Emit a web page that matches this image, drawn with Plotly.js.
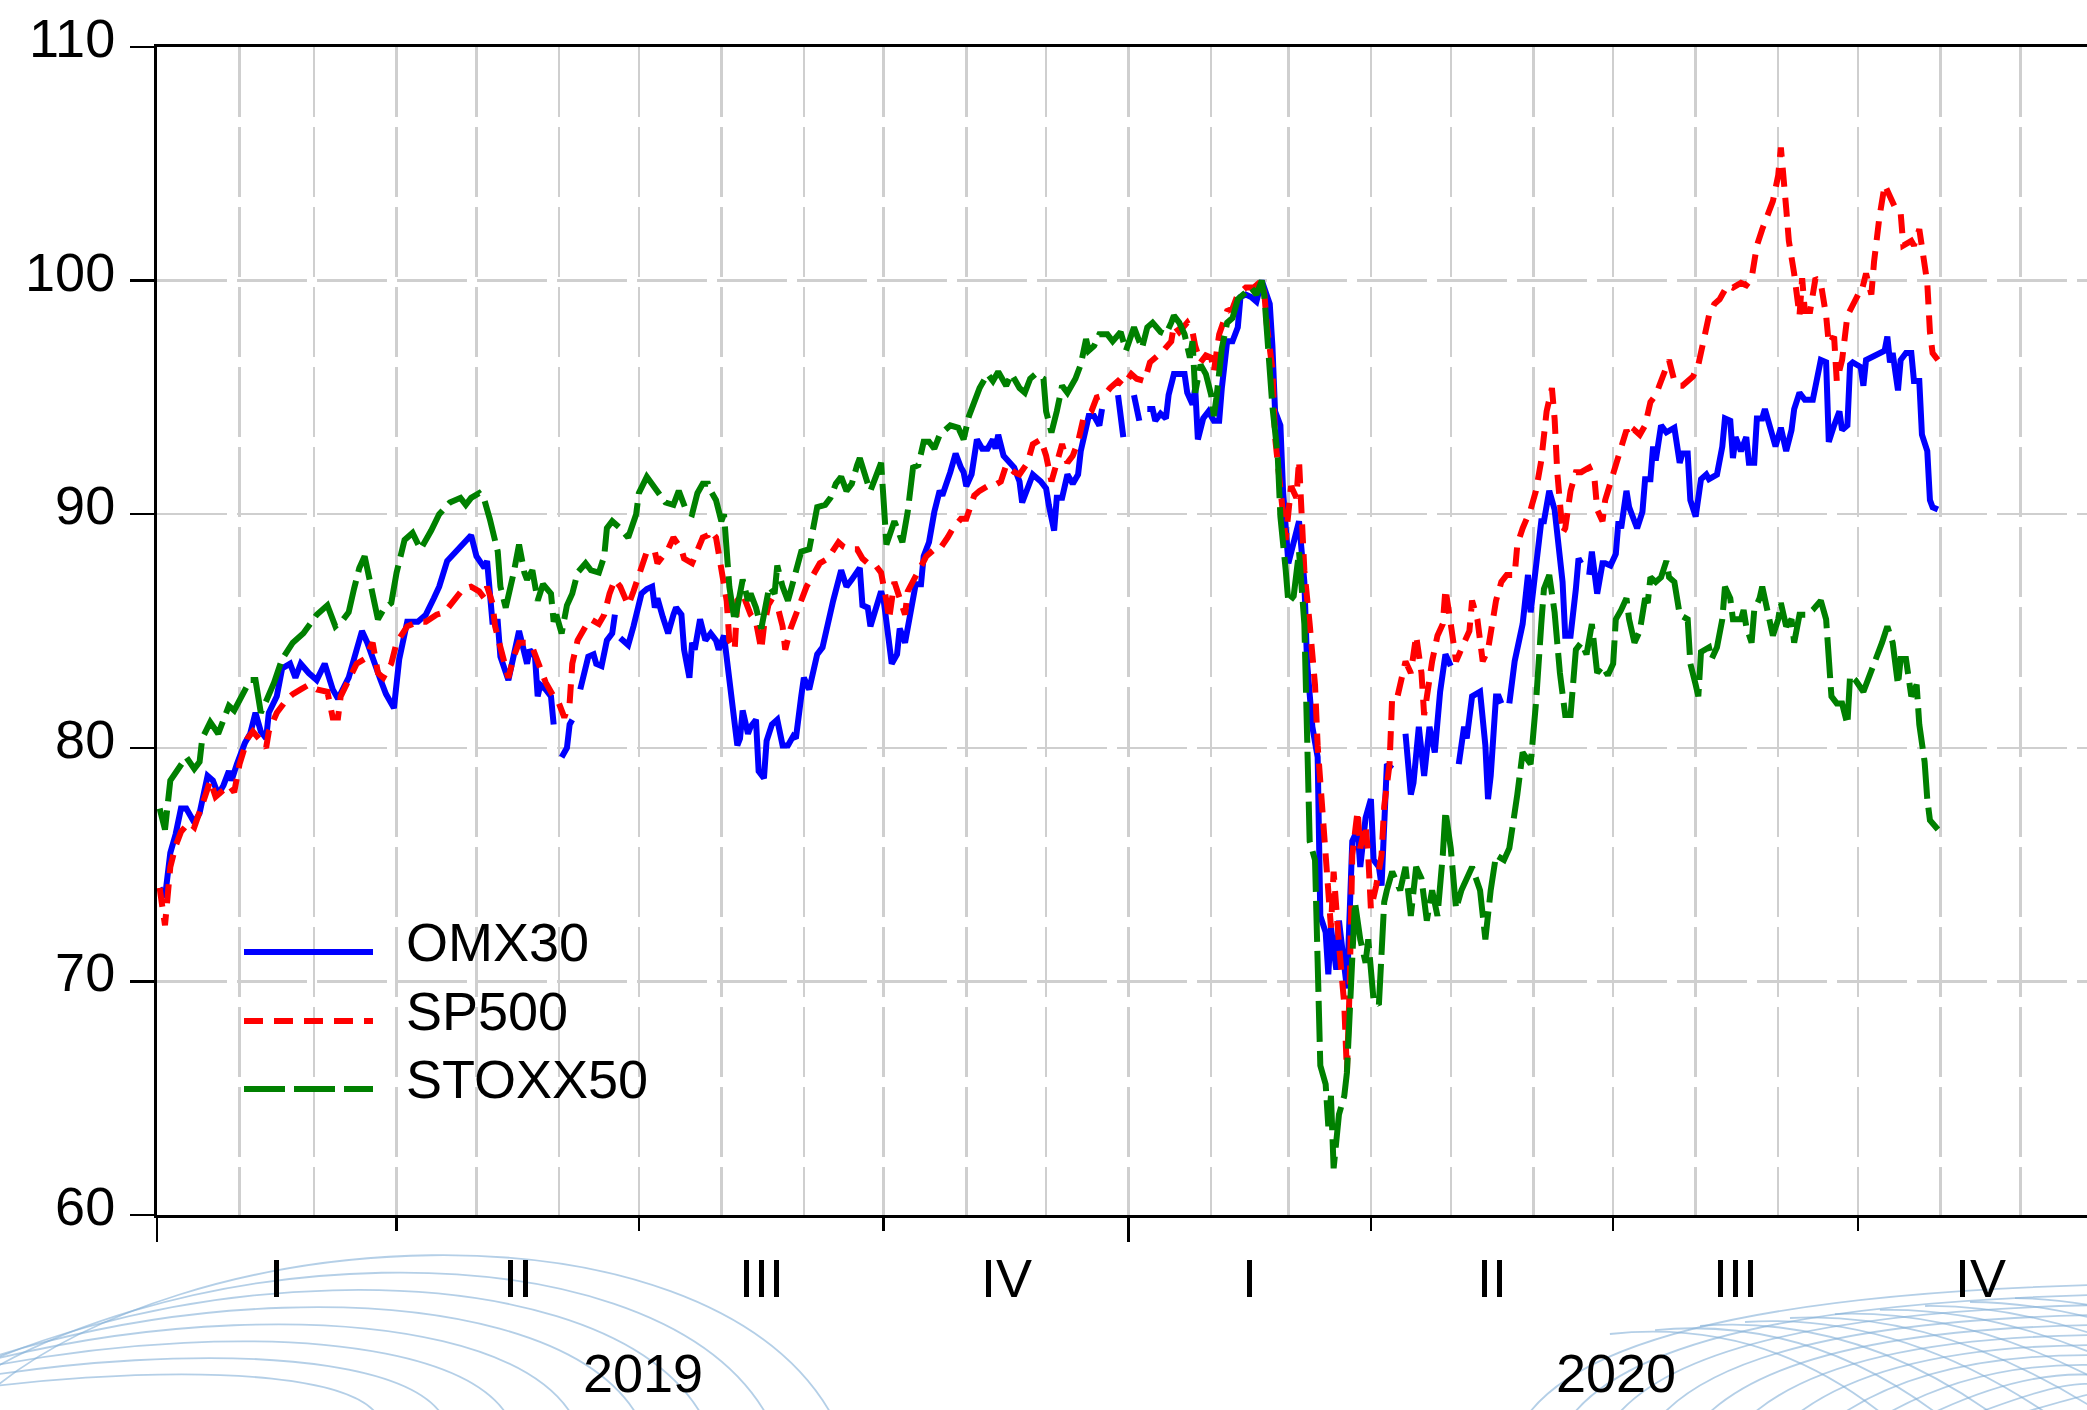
<!DOCTYPE html>
<html><head><meta charset="utf-8">
<script src="https://cdn.plot.ly/plotly-3.0.1.min.js"></script>
<style>html,body{margin:0;padding:0;background:#fff;overflow:hidden}#chart{width:2087px;height:1410px}</style>
</head><body><div id="chart"></div>
<script>
// ---------------- DATA ----------------
const SERIES_NAMES = ['OMX30', 'SP500', 'STOXX50'];
const QUARTER_LABELS = ['I', 'II', 'III', 'IV'];
const YEARS = [2019, 2020];
const Y_TICKS = [60, 70, 80, 90, 100, 110];
const BASE_DATE = '2019-01-01';
// observations: [calendar days since 2019-01-01, index level]; null = no observation (gap)
const OMX30 = [[1,74.0],[3,73.6],[5,75.5],[7,76.3],[9,77.4],[11,77.4],[14,76.8],[16,77.2],[19,78.8],[21,78.6],[23,78.0],[25,78.4],[27,79.0],[28,78.6],[30,79.3],[33,80.2],[35,80.6],[37,81.5],[39,80.7],[41,80.4],[42,81.5],[45,82.2],[47,83.4],[50,83.6],[52,83.0],[54,83.6],[57,83.2],[60,82.9],[63,83.6],[66,82.5],[68,82.1],[70,82.5],[72,83.0],[74,83.8],[77,85.0],[79,84.5],[81,83.8],[84,82.9],[86,82.3],[89,81.7],[91,83.8],[94,85.4],[98,85.4],[101,85.7],[104,86.4],[106,86.9],[109,88.0],[113,88.5],[116,88.9],[118,89.1],[120,88.2],[123,87.7],[124,88.0],[126,85.4],[128,85.4],[129,83.9],[132,82.9],[134,83.9],[136,85.0],[139,83.6],[140,84.2],[142,83.9],[143,82.2],[144,82.7],[146,82.5],[148,82.2],[149,81.0],[150,null],[152,79.6],[154,80.0],[155,81.0],[156,81.2],[157,null],[159,82.5],[160,82.9],[162,83.9],[164,84.0],[165,83.6],[167,83.5],[169,84.6],[171,84.9],[172,85.7],[173,null],[174,84.7],[177,84.4],[179,85.2],[180,85.7],[182,86.6],[184,86.8],[186,86.9],[187,86.0],[188,86.4],[190,85.6],[192,84.9],[194,85.7],[195,86.0],[197,85.7],[198,84.2],[200,83.0],[201,84.5],[202,84.2],[204,85.5],[206,84.6],[208,84.9],[210,84.6],[211,84.2],[213,84.8],[215,82.7],[217,80.7],[218,80.1],[219,80.4],[220,81.6],[222,80.6],[223,80.9],[225,81.2],[226,79.0],[228,78.7],[229,80.3],[231,81.0],[233,81.2],[235,80.1],[237,80.1],[239,80.5],[240,80.4],[242,82.2],[243,83.0],[245,82.5],[248,84.0],[250,84.3],[252,85.4],[254,86.3],[257,87.6],[259,86.9],[261,87.2],[264,87.7],[265,86.1],[267,86.0],[268,85.2],[270,85.9],[272,86.7],[273,86.3],[275,84.2],[276,83.6],[278,84.0],[279,85.1],[281,84.5],[283,85.7],[285,87.0],[287,87.0],[288,88.2],[290,88.8],[292,90.1],[294,91.0],[295,90.8],[298,91.8],[300,92.6],[302,92.0],[303,91.8],[304,91.2],[306,91.7],[308,93.2],[310,92.8],[312,92.8],[314,93.2],[315,92.8],[316,93.4],[318,92.5],[320,92.2],[322,92.0],[324,91.4],[325,90.5],[327,91.1],[329,91.7],[332,91.4],[334,91.1],[335,90.4],[337,89.3],[338,90.7],[340,90.7],[342,91.7],[344,91.3],[346,91.7],[347,92.7],[349,93.7],[350,94.2],[352,94.2],[354,93.8],[355,94.5],[357,null],[361,95.1],[363,93.3],[365,null],[367,95.1],[369,94.0],[370,null],[372,94.5],[374,94.5],[375,94.0],[377,94.3],[379,94.1],[380,95.1],[382,96.0],[384,96.0],[386,96.0],[387,95.2],[389,94.7],[390,95.4],[391,93.2],[393,94.1],[395,94.4],[397,94.0],[399,94.0],[400,95.4],[402,97.4],[404,97.4],[406,98.0],[407,99.3],[409,99.4],[411,99.3],[413,99.1],[415,100.0],[416,99.6],[418,99.0],[419,97.2],[420,94.4],[422,93.8],[423,91.0],[425,87.9],[427,88.7],[429,89.7],[431,87.1],[432,83.7],[434,80.9],[436,79.6],[437,72.8],[439,72.1],[440,70.3],[441,72.3],[443,70.5],[444,72.6],[447,69.7],[449,76.0],[451,76.5],[452,74.9],[454,77.0],[456,77.8],[457,75.2],[459,74.9],[460,74.1],[462,79.3],[464,79.1],[466,null],[469,80.6],[471,78.0],[472,78.5],[474,80.9],[476,78.8],[478,80.9],[480,79.8],[482,82.4],[484,84.0],[486,83.5],[487,null],[489,79.3],[491,80.9],[492,80.4],[494,82.2],[497,82.4],[499,80.1],[500,77.8],[501,78.8],[503,82.2],[504,82.2],[505,81.9],[506,null],[508,81.9],[510,83.7],[513,85.3],[515,87.4],[516,85.8],[518,87.9],[520,89.7],[521,89.7],[523,91.0],[525,90.2],[526,89.2],[528,87.1],[529,84.8],[531,84.8],[533,86.8],[534,88.1],[535,87.9],[536,null],[538,87.4],[539,88.4],[541,86.6],[543,87.9],[544,87.9],[546,87.8],[548,88.3],[549,89.7],[550,89.4],[552,91.0],[553,90.3],[556,89.4],[558,90.1],[559,91.5],[561,91.5],[562,92.9],[563,92.3],[565,93.8],[567,93.5],[570,93.7],[572,92.2],[573,92.6],[575,92.6],[576,90.6],[578,89.9],[580,91.5],[582,91.7],[583,91.5],[586,91.7],[588,92.9],[589,94.1],[591,94.0],[592,92.4],[593,93.3],[595,92.7],[597,93.3],[598,92.2],[600,92.2],[601,94.1],[603,94.1],[604,94.5],[606,93.6],[608,92.9],[610,93.7],[612,92.7],[614,93.6],[615,94.5],[617,95.2],[619,94.9],[622,94.9],[624,96.2],[625,96.6],[627,96.5],[628,93.1],[630,93.8],[632,94.4],[633,93.6],[635,93.8],[636,96.4],[637,96.5],[640,96.3],[641,95.5],[642,96.6],[644,96.7],[647,96.9],[649,97.0],[650,97.6],[651,96.5],[652,96.9],[654,95.3],[655,96.6],[657,96.9],[659,96.9],[660,95.7],[662,95.7],[663,93.4],[665,92.7],[666,90.6],[667,90.3],[669,90.2]];
const SP500 = [[1,74.0],[3,72.4],[5,74.9],[7,75.8],[9,76.4],[12,76.8],[14,76.6],[16,77.2],[18,77.9],[20,78.6],[22,77.9],[24,78.1],[27,78.4],[29,78.1],[31,79.3],[34,80.4],[36,80.7],[39,80.3],[41,80.0],[42,80.7],[45,81.5],[49,82.1],[51,82.3],[54,82.5],[57,82.7],[60,82.5],[64,82.4],[66,81.3],[68,81.3],[69,82.2],[72,82.9],[75,83.6],[78,83.8],[81,84.5],[83,83.2],[85,83.0],[88,83.6],[90,84.5],[94,85.2],[98,85.4],[101,85.4],[105,85.7],[108,85.8],[111,86.2],[115,86.8],[118,86.9],[121,86.7],[123,86.4],[124,86.9],[126,86.2],[127,85.2],[129,84.3],[131,83.4],[132,83.0],[134,83.9],[136,84.5],[139,84.5],[141,84.3],[144,83.4],[146,82.8],[149,82.2],[151,81.9],[153,81.3],[155,81.9],[156,83.6],[158,84.6],[161,85.2],[163,85.5],[166,85.3],[168,85.7],[170,86.6],[172,87.2],[174,86.9],[177,86.1],[179,86.7],[182,87.8],[184,88.4],[187,88.4],[188,87.9],[192,88.5],[194,89.0],[197,88.5],[198,88.1],[201,87.9],[203,88.5],[205,89.0],[207,89.1],[208,89.3],[210,89.0],[212,87.8],[214,86.3],[215,84.6],[217,84.2],[218,86.3],[220,86.6],[223,85.7],[225,85.4],[227,84.2],[228,85.2],[230,86.3],[233,86.1],[235,85.2],[236,84.2],[238,85.1],[240,85.7],[242,86.3],[244,86.9],[247,87.5],[249,87.9],[252,88.1],[254,88.5],[256,88.8],[258,88.6],[260,88.5],[263,88.5],[265,88.1],[267,87.9],[268,87.8],[270,87.8],[272,87.5],[274,86.3],[275,85.5],[277,87.1],[279,86.4],[281,85.7],[282,86.7],[284,87.1],[287,87.7],[289,88.2],[292,88.5],[294,88.5],[297,89.0],[299,89.4],[302,89.8],[304,89.8],[307,90.8],[309,91.0],[312,91.2],[314,91.2],[317,91.4],[319,92.1],[322,91.8],[324,91.7],[327,92.2],[329,93.0],[332,93.2],[334,92.5],[336,91.4],[338,92.2],[340,93.0],[342,92.2],[344,92.5],[346,93.1],[348,94.1],[351,94.4],[353,95.0],[356,95.1],[358,95.4],[361,95.7],[363,95.5],[366,96.0],[368,95.8],[371,95.7],[373,96.5],[376,96.8],[378,97.0],[381,97.4],[382,98.1],[384,97.8],[387,98.2],[389,97.8],[390,97.2],[392,96.5],[394,96.8],[396,96.7],[397,96.1],[399,97.7],[402,98.7],[404,98.8],[406,99.4],[409,99.7],[412,99.7],[415,100.0],[416,99.4],[417,98.0],[419,96.2],[420,93.3],[422,91.0],[424,88.9],[426,91.2],[428,90.7],[429,92.3],[430,89.9],[431,87.6],[433,85.3],[434,84.2],[435,82.7],[436,80.1],[438,76.7],[439,75.4],[440,73.9],[441,72.3],[442,74.7],[443,72.8],[444,71.6],[446,69.0],[447,66.1],[448,69.7],[449,75.4],[451,77.3],[452,75.7],[454,76.7],[455,75.4],[456,73.1],[458,74.1],[460,75.4],[461,77.5],[463,79.3],[464,82.2],[466,82.2],[468,83.2],[469,83.7],[471,83.2],[473,84.8],[475,83.2],[476,81.4],[479,83.7],[481,84.8],[483,85.3],[484,86.8],[486,85.3],[488,83.7],[491,84.5],[493,85.0],[494,86.3],[496,85.5],[498,83.7],[500,84.2],[503,86.3],[505,87.1],[507,87.4],[510,87.4],[511,88.7],[513,89.4],[516,90.2],[518,91.0],[520,92.3],[522,94.4],[524,95.4],[525,94.1],[526,91.8],[528,89.2],[529,89.4],[531,91.0],[533,91.8],[535,91.8],[538,92.0],[540,91.5],[541,90.2],[543,89.7],[544,90.6],[546,91.3],[548,92.2],[550,92.7],[552,93.6],[553,93.3],[555,93.6],[557,93.4],[559,93.8],[561,94.8],[563,95.1],[565,95.7],[568,96.6],[570,95.7],[572,95.5],[573,95.5],[575,95.7],[577,95.9],[579,96.4],[581,97.6],[583,98.5],[585,99.0],[587,99.2],[590,99.8],[592,99.7],[595,99.9],[597,99.8],[599,100.1],[601,101.5],[603,102.2],[605,102.8],[607,103.4],[609,104.5],[610,105.7],[612,103.1],[613,101.7],[615,100.3],[617,98.5],[618,100.1],[619,98.7],[621,98.7],[623,100.1],[625,99.9],[627,98.5],[628,97.3],[630,97.6],[631,95.7],[633,96.6],[635,98.5],[637,99.0],[639,99.4],[640,99.4],[642,100.3],[644,99.4],[645,100.8],[647,102.7],[649,104.1],[651,103.6],[653,103.1],[655,102.9],[656,101.5],[659,101.7],[660,101.5],[662,102.2],[664,100.8],[665,99.9],[666,97.8],[667,96.9],[669,96.6]];
const STOXX50 = [[1,77.4],[3,76.5],[5,78.6],[9,79.3],[11,79.6],[14,79.1],[16,79.4],[17,80.4],[20,81.1],[23,80.6],[26,81.5],[27,81.8],[29,81.6],[32,82.2],[35,82.9],[37,82.9],[39,81.5],[41,82.0],[44,82.8],[47,83.8],[51,84.5],[55,84.9],[60,85.7],[64,86.1],[67,85.2],[70,85.5],[72,85.8],[74,86.8],[76,87.7],[78,88.2],[80,87.1],[83,85.5],[85,85.9],[88,86.2],[90,87.5],[93,88.9],[96,89.2],[99,88.5],[103,89.3],[106,90.0],[110,90.5],[114,90.7],[116,90.4],[118,90.7],[121,90.9],[123,90.6],[125,89.8],[128,88.4],[129,86.9],[131,86.0],[134,87.5],[136,88.7],[138,87.5],[139,87.2],[141,87.6],[143,86.3],[145,87.0],[148,86.6],[149,85.4],[150,85.7],[152,84.9],[154,86.1],[156,86.6],[158,87.5],[161,87.9],[163,87.6],[166,87.5],[168,88.2],[169,89.4],[171,89.7],[174,89.4],[177,89.0],[180,90.0],[181,90.9],[184,91.6],[186,91.3],[189,90.9],[191,90.5],[194,90.4],[196,91.0],[199,90.1],[201,90.0],[203,90.9],[205,91.3],[207,91.3],[208,91.0],[210,90.6],[212,89.7],[213,90.0],[214,88.7],[215,86.9],[217,85.4],[218,86.0],[220,87.2],[222,86.3],[223,86.6],[225,86.0],[227,85.1],[228,85.7],[230,86.9],[232,86.6],[233,87.8],[235,86.9],[237,86.3],[238,86.7],[240,87.5],[242,88.4],[245,88.5],[247,89.6],[248,90.3],[251,90.4],[253,90.7],[255,91.3],[257,91.6],[259,91.0],[261,91.3],[263,92.1],[264,92.4],[267,91.3],[268,91.0],[270,91.6],[272,92.2],[273,90.5],[274,88.7],[277,89.7],[279,89.0],[280,88.8],[282,90.1],[284,92.0],[286,92.1],[288,93.1],[290,93.1],[292,92.8],[294,93.4],[297,93.7],[298,93.8],[301,93.7],[303,93.2],[305,94.2],[307,94.8],[309,95.4],[312,96.0],[314,95.7],[316,96.1],[319,95.5],[321,96.0],[324,95.4],[326,95.2],[328,95.8],[330,96.0],[333,95.8],[334,94.4],[336,93.5],[338,94.4],[340,95.5],[342,95.2],[343,95.4],[345,95.8],[347,96.4],[349,97.5],[350,97.0],[352,97.2],[354,97.7],[357,97.7],[359,97.4],[362,97.8],[364,97.0],[367,98.0],[369,97.4],[370,97.1],[372,98.0],[374,98.2],[377,97.8],[379,97.7],[381,98.2],[382,98.5],[384,98.2],[386,97.7],[388,96.7],[389,97.4],[390,95.2],[392,96.4],[394,96.0],[396,95.1],[397,94.2],[398,95.0],[400,97.1],[402,98.2],[404,98.4],[406,99.2],[409,99.5],[411,99.7],[413,99.4],[415,100.0],[416,99.3],[417,97.5],[419,94.6],[421,92.5],[422,89.9],[424,87.6],[425,86.2],[427,86.5],[429,88.4],[431,85.3],[432,80.6],[433,76.0],[435,75.2],[436,71.5],[437,66.4],[439,65.6],[440,63.8],[441,65.1],[442,62.0],[444,64.3],[446,65.1],[447,66.1],[448,68.7],[450,73.4],[452,71.8],[454,70.8],[455,71.8],[457,69.2],[459,69.0],[461,73.4],[462,73.9],[464,74.7],[467,73.9],[469,74.9],[471,72.8],[473,74.9],[475,74.4],[477,72.6],[479,73.9],[481,72.8],[483,75.4],[484,77.3],[486,75.7],[488,73.1],[490,73.9],[492,74.4],[494,74.9],[497,73.9],[499,71.8],[501,73.9],[503,75.4],[506,75.2],[508,75.7],[511,78.0],[513,79.8],[516,79.3],[518,81.9],[520,85.3],[521,86.8],[523,87.4],[525,85.8],[527,83.2],[529,81.4],[531,81.4],[533,84.2],[535,84.5],[537,84.0],[539,85.3],[541,83.2],[543,83.5],[545,83.1],[547,83.6],[548,85.5],[550,85.9],[552,86.4],[553,85.5],[555,84.5],[557,85.0],[559,86.4],[560,86.2],[561,87.3],[563,87.1],[565,87.3],[567,88.0],[568,87.3],[570,87.1],[572,85.7],[575,85.5],[576,83.6],[578,82.7],[579,82.2],[580,84.1],[583,84.3],[584,83.8],[586,84.3],[588,85.5],[589,86.9],[591,86.4],[592,85.5],[595,85.5],[596,85.9],[597,85.2],[599,84.5],[600,85.9],[602,86.4],[603,86.9],[605,85.9],[607,84.8],[609,85.5],[610,86.2],[612,85.2],[614,85.5],[615,84.5],[617,85.7],[620,85.7],[622,85.9],[625,86.3],[627,85.5],[629,82.2],[631,81.9],[633,81.9],[635,81.0],[636,83.1],[638,82.9],[641,82.4],[643,83.1],[645,83.6],[648,84.5],[650,85.2],[652,84.5],[654,82.7],[655,83.8],[657,83.8],[659,82.2],[661,82.7],[662,81.0],[664,79.4],[665,77.8],[666,76.9],[669,76.5]];

// ---------------- HELPERS ----------------
const DAY_MS = 86400000;
const BASE_MS = Date.parse(BASE_DATE + 'T00:00:00Z');
function dayToDate(d) { return new Date(BASE_MS + d * DAY_MS).toISOString().slice(0, 10); }
function msToStr(ms) { return new Date(ms).toISOString().replace('T', ' ').slice(0, 19); }

const W = 2087, H = 1410;
const PLOT = { l: 157, t: 47, r: 2087, b: 1215 };
const px = x => (x - PLOT.l) / (PLOT.r - PLOT.l);
const py = y => (PLOT.b - y) / (PLOT.b - PLOT.t);

const FONT = 'Liberation Sans, Arial, Helvetica, sans-serif';
const COLORS = ['#0000ff', '#ff0000', '#008000'];
const DASHES = ['solid', '19px,11px', '41px,9px'];
const LINE_W = 6;
const GRID = { color: '#cfcfcf', width: 2.5, dash: '70px,10px' };
const X_RANGE = ['2019-01-01', '2020-12-26'];

// ---------------- TRACES ----------------
const seriesData = [OMX30, SP500, STOXX50];
const traces = seriesData.map((s, i) => ({
  type: 'scatter', mode: 'lines', name: SERIES_NAMES[i],
  x: s.map(p => dayToDate(p[0])), y: s.map(p => p[1]),
  connectgaps: false, hoverinfo: 'skip', showlegend: false,
  xaxis: i === 2 ? 'x2' : 'x',
  line: { color: COLORS[i], width: LINE_W, dash: DASHES[i] }
}));

// ---------------- ANNOTATIONS (axis period labels + legend) ----------------
const annotations = [];
YEARS.forEach(y => {
  for (let q = 0; q < 4; q++) {
    const a = Date.UTC(y, 3 * q, 1), b = Date.UTC(y, 3 * q + 3, 1);
    annotations.push({ x: msToStr((a + b) / 2), xref: 'x', y: py(1278), yref: 'paper',
      text: QUARTER_LABELS[q], showarrow: false, xanchor: 'center', yanchor: 'middle',
      font: { family: FONT, size: 54, color: '#000' } });
  }
  const a = Date.UTC(y, 0, 1), b = Date.UTC(y + 1, 0, 1);
  annotations.push({ x: msToStr((a + b) / 2), xref: 'x', y: py(1373), yref: 'paper',
    text: String(y), showarrow: false, xanchor: 'center', yanchor: 'middle',
    font: { family: FONT, size: 54, color: '#000' } });
});

const shapes = [];
const LEG_Y = [952, 1021, 1089];
SERIES_NAMES.forEach((n, i) => {
  shapes.push({ type: 'line', xref: 'paper', yref: 'paper', x0: px(244), x1: px(373),
    y0: py(LEG_Y[i]), y1: py(LEG_Y[i]), line: { color: COLORS[i], width: LINE_W, dash: DASHES[i] } });
  annotations.push({ x: px(404), xref: 'paper', y: py(LEG_Y[i] - 10), yref: 'paper',
    text: n, showarrow: false, xanchor: 'left', yanchor: 'middle',
    font: { family: FONT, size: 54, color: '#000' } });
});

// ---------------- DECORATIVE WATERMARK (background arcs) ----------------
const WM = { color: 'rgba(130,175,215,0.6)', width: 1.8 };
function bez(p0, p1, p2, p3) {
  const f = p => px(p[0]).toFixed(4) + ',' + py(p[1]).toFixed(4);
  return 'M' + f(p0) + ' C' + f(p1) + ' ' + f(p2) + ' ' + f(p3);
}
function quad(p0, p1, p2) {
  const f = p => px(p[0]).toFixed(4) + ',' + py(p[1]).toFixed(4);
  return 'M' + f(p0) + ' Q' + f(p1) + ' ' + f(p2);
}
for (let i = 0; i < 8; i++) {
  shapes.push({ type: 'path', xref: 'paper', yref: 'paper', layer: 'below',
    path: bez([-20 - 45 * i, 1400 + 8 * i], [180 - 40 * i, 1220 + 22 * i], [700 - 55 * i, 1190 + 22 * i], [830 - 65 * i, 1412]),
    line: WM });
}
for (let j = 0; j < 12; j++) {
  shapes.push({ type: 'path', xref: 'paper', yref: 'paper', layer: 'below',
    path: quad([1530 + 45 * j, 1412], [1620 + 45 * j, 1298 + 8 * j], [2095, 1285 + 10 * j]), line: WM });
}
for (let k = 0; k < 10; k++) {
  shapes.push({ type: 'path', xref: 'paper', yref: 'paper', layer: 'below',
    path: quad([1610 + 45 * k, 1334 - 4 * k], [1760 + 45 * k, 1318 - 2 * k], [1880 + 55 * k, 1412]), line: WM });
}

// ---------------- LAYOUT ----------------
const layout = {
  width: W, height: H,
  margin: { l: PLOT.l, r: W - PLOT.r, t: PLOT.t, b: H - PLOT.b, pad: 0 },
  paper_bgcolor: '#fff', plot_bgcolor: '#fff',
  showlegend: false,
  font: { family: FONT, color: '#000' },
  xaxis: {
    type: 'date', range: X_RANGE, fixedrange: true,
    tick0: '2019-01-01', dtick: 'M3',
    ticks: 'outside', ticklen: 13, tickwidth: 2.5, tickcolor: '#000',
    showticklabels: false,
    showgrid: true, gridcolor: GRID.color, gridwidth: GRID.width, griddash: GRID.dash,
    minor: { dtick: 'M1', tick0: '2019-01-01', showgrid: true, gridcolor: GRID.color,
             gridwidth: GRID.width, griddash: GRID.dash, ticks: '' },
    showline: true, linecolor: '#000', linewidth: 3, mirror: true, zeroline: false
  },
  xaxis2: {
    type: 'date', range: X_RANGE, overlaying: 'x', anchor: 'y', side: 'bottom', fixedrange: true,
    tick0: '2019-01-01', dtick: 'M12',
    ticks: 'outside', ticklen: 26, tickwidth: 2.5, tickcolor: '#000',
    showticklabels: false, showgrid: false, showline: false, zeroline: false
  },
  yaxis: {
    range: [60, 110], tickmode: 'array', tickvals: Y_TICKS, ticktext: Y_TICKS.map(String),
    fixedrange: true,
    ticks: 'outside', ticklen: 24, tickwidth: 2.5, tickcolor: '#000',
    ticklabelstandoff: 4, ticklabelshift: -9,
    tickfont: { family: FONT, size: 54, color: '#000' },
    showgrid: true, gridcolor: GRID.color, gridwidth: GRID.width, griddash: GRID.dash,
    showline: true, linecolor: '#000', linewidth: 3, mirror: false, zeroline: false
  },
  annotations: annotations,
  shapes: shapes
};

Plotly.newPlot('chart', traces, layout, { displayModeBar: false, staticPlot: true });
</script>
</body></html>
